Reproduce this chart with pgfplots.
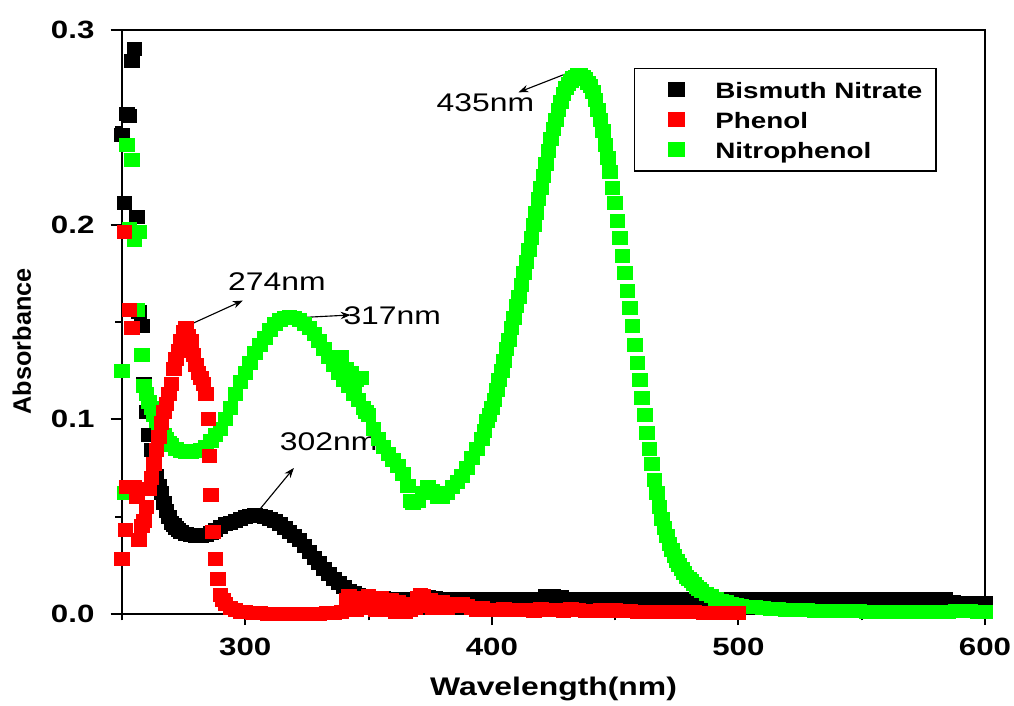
\documentclass[border=0pt]{standalone}
\usepackage{fontspec}
\setmainfont{Liberation Sans}[FakeStretch=1.25]
\newfontfamily\plainfont{Liberation Sans}
\usepackage{pgfplots}
\pgfplotsset{compat=1.18}
\usetikzlibrary{arrows.meta}

\newcommand\annfont{\fontsize{10.2}{12}\selectfont}

\begin{document}
\begin{tikzpicture}
\path[use as bounding box] (-48.8pt,-36.8pt) rectangle (356.8pt,245.6pt);
\begin{axis}[
  width=345.2pt, height=233.6pt, scale only axis,
  xmin=250, xmax=600, ymin=0, ymax=0.3,
  xtick={300,400,500,600}, minor xtick={250,350,450,550},
  ytick={0,0.1,0.2,0.3}, minor ytick={0.05,0.15,0.25},
  tick align=outside, xtick pos=bottom, ytick pos=left,
  major tick length=4.5pt, minor tick length=2.6pt,
  axis line style={line width=0.8pt},
  every tick/.style={black, line width=0.8pt},
  /pgf/number format/assume math mode=true,
  yticklabel style={/pgf/number format/fixed, /pgf/number format/fixed zerofill,
    /pgf/number format/precision=1, xshift=-3pt},
  tick label style={font=\fontsize{10}{12}\selectfont\bfseries},
  xticklabel style={yshift=-1.4pt},
  xlabel={Wavelength(nm)},
  ylabel={Absorbance},
  xlabel style={at={(axis description cs:0.5,0)}, anchor=center, yshift=-30pt,
    font=\fontsize{10.2}{12}\selectfont\bfseries},
  ylabel style={at={(axis description cs:-0.1159,0.467)}, anchor=center,
    font=\plainfont\fontsize{10.1}{12}\selectfont\bfseries},
  legend style={at={(rel axis cs:0.944,0.935)}, anchor=north east,
    draw=black, line width=0.6pt, inner xsep=3.4pt, inner ysep=3.5pt,
    row sep=2pt,
    font=\fontsize{8.9}{10}\selectfont\bfseries,
    nodes={text height=7.5pt, text depth=0.5pt, inner ysep=1pt}},
  legend cell align=left,
  legend image code/.code={%
    \path[draw=none, fill=none] (0pt,-3pt) rectangle (27pt,3pt);
    \draw[#1] plot coordinates {(13.5pt,0pt)};},
  mark size=2.6pt,
]
\addlegendimage{only marks, mark=square*, black, mark size=2.7pt, mark options={xscale=1.2}}
\addlegendentry{Bismuth Nitrate}
\addlegendimage{only marks, mark=square*, red, mark size=2.7pt, mark options={xscale=1.2}}
\addlegendentry{Phenol}
\addlegendimage{only marks, mark=square*, green, mark size=2.7pt, mark options={xscale=1.2}}
\addlegendentry{Nitrophenol}

% Bismuth Nitrate
\addplot[only marks, mark=square*, black, mark options={xscale=1.12}, forget plot] coordinates {
(250,0.246) (251,0.211) (252,0.257) (253,0.256) (254,0.284) (255,0.290)
(256,0.204) (257,0.155) (258,0.148) (259,0.118) (260,0.104) (261,0.092)
(262,0.084) (263,0.077) (264,0.071) (265,0.066) (266,0.062) (267,0.057)
(268,0.053) (269,0.050) (270,0.047) (271,0.0455) (272,0.044) (273,0.043)
(274,0.042) (276,0.041) (278,0.0405) (280,0.040) (282,0.040) (284,0.0405)
(286,0.0415) (288,0.043) (290,0.0445) (292,0.046) (294,0.047) (296,0.048)
(298,0.049) (300,0.050) (302,0.0505) (304,0.051) (306,0.0505) (308,0.050)
(310,0.049) (312,0.048) (314,0.046) (316,0.044) (318,0.042) (320,0.040)
(322,0.038) (324,0.035) (326,0.032) (328,0.029) (330,0.026) (332,0.023)
(334,0.0205) (336,0.018) (338,0.016) (340,0.014) (342,0.012) (344,0.011)
(346,0.010) (348,0.0093) (350,0.0088) (353,0.0083) (356,0.008) (359,0.0079)
(362,0.0078) (365,0.0078) (368,0.0078) (371,0.0085) (374,0.0086) (377,0.0084)
(380,0.0078) (383,0.0078) (386,0.0078) (389,0.0078) (392,0.0078) (395,0.0078)
(398,0.0078) (401,0.0078) (404,0.0078) (407,0.0078) (410,0.0078) (413,0.0078)
(416,0.0078) (419,0.0079) (422,0.009) (425,0.0092) (428,0.0088) (431,0.0079)
(434,0.0078) (437,0.0078) (440,0.0078) (443,0.0078) (446,0.0078) (449,0.0078)
(452,0.0078) (455,0.0078) (458,0.0078) (461,0.0078) (464,0.0078) (467,0.0078)
(470,0.0078) (473,0.0078) (476,0.0078) (479,0.0078) (482,0.0078) (485,0.0078)
(488,0.0078) (491,0.0078) (494,0.0078) (497,0.0078) (500,0.0078) (503,0.0078)
(506,0.0078) (509,0.0078) (512,0.0078) (515,0.0078) (518,0.0078) (521,0.0078)
(524,0.0078) (527,0.0078) (530,0.0078) (533,0.0078) (536,0.0078) (539,0.0078)
(542,0.0078) (545,0.0078) (548,0.0078) (551,0.0078) (554,0.0078) (557,0.0078)
(560,0.0078) (563,0.0078) (566,0.0078) (569,0.0078) (572,0.0078) (575,0.0078)
(578,0.0078) (581,0.0078) (584,0.0076) (587,0.0062) (590,0.0058) (593,0.0058)
(596,0.0058) (600,0.0058)
};

% Nitrophenol
\addplot[only marks, mark=square*, green, mark options={xscale=1.12}, forget plot] coordinates {
(250,0.125) (251,0.062) (252,0.241) (253,0.198) (254,0.233) (255,0.192)
(256,0.156) (257,0.196) (258,0.133) (259,0.117) (260,0.113) (261,0.109)
(262,0.106) (263,0.102) (264,0.099) (265,0.096) (266,0.094) (267,0.092)
(268,0.090) (269,0.088) (270,0.087) (272,0.085) (274,0.0835) (276,0.083)
(278,0.083) (280,0.0835) (282,0.084) (284,0.086) (286,0.089) (288,0.092)
(290,0.095) (292,0.100) (294,0.106) (296,0.113) (298,0.119) (300,0.124)
(302,0.129) (304,0.134) (306,0.138) (308,0.142) (310,0.146) (312,0.149)
(314,0.151) (316,0.152) (318,0.1525) (320,0.152) (322,0.151) (324,0.149)
(326,0.147) (328,0.144) (330,0.140) (332,0.136) (334,0.132) (336,0.128)
(338,0.124) (339,0.132) (340,0.120) (341,0.126) (342,0.117) (343,0.124)
(344,0.113) (345,0.120) (346,0.110) (347,0.121) (348,0.106) (349,0.104)
(350,0.102) (352,0.095) (354,0.090) (356,0.086) (358,0.082) (360,0.079)
(362,0.076) (364,0.072) (366,0.066) (367,0.058) (368,0.057) (370,0.058)
(372,0.062) (374,0.065) (376,0.063) (378,0.060) (380,0.060) (382,0.062)
(384,0.065) (386,0.068) (388,0.071) (390,0.075) (392,0.080) (394,0.085)
(396,0.090) (397,0.094) (398,0.099) (399,0.102) (400,0.106) (401,0.110)
(402,0.115) (403,0.120) (404,0.125) (405,0.130) (406,0.136) (407,0.141)
(408,0.147) (409,0.152) (410,0.158) (411,0.163) (412,0.169) (413,0.175)
(414,0.181) (415,0.187) (416,0.193) (417,0.200) (418,0.206) (419,0.213)
(420,0.219) (421,0.225) (422,0.231) (423,0.238) (424,0.244) (425,0.249)
(426,0.254) (427,0.259) (428,0.263) (429,0.267) (430,0.270) (431,0.272)
(432,0.274) (433,0.2755) (434,0.276) (435,0.277) (436,0.277) (437,0.276)
(438,0.275) (439,0.273) (440,0.271) (441,0.268) (442,0.264) (443,0.259)
(444,0.254) (445,0.248) (446,0.241) (447,0.234) (448,0.227) (449,0.219)
(450,0.211) (451,0.202) (452,0.193) (453,0.184) (454,0.175) (455,0.166)
(456,0.157) (457,0.148) (458,0.138) (459,0.129) (460,0.120) (461,0.111)
(462,0.102) (463,0.093) (464,0.085) (465,0.077) (466,0.069) (467,0.062)
(468,0.055) (469,0.049) (470,0.044) (471,0.040) (472,0.036) (473,0.033)
(474,0.030) (475,0.027) (476,0.025) (477,0.023) (478,0.021) (479,0.019)
(480,0.018) (481,0.017) (482,0.0155) (483,0.014) (484,0.013) (485,0.012)
(487,0.0105) (489,0.009) (491,0.0078) (493,0.0068) (495,0.006) (497,0.0052)
(499,0.0047) (501,0.0043) (504,0.0038) (507,0.0034) (510,0.003) (513,0.0027)
(516,0.0024) (519,0.0022) (522,0.002) (525,0.0019) (528,0.0018) (531,0.0017)
(534,0.0016) (537,0.0015) (540,0.0015) (543,0.0014) (546,0.0013) (549,0.0013)
(552,0.0012) (555,0.0012) (558,0.0012) (561,0.0011) (564,0.0011) (567,0.0011)
(570,0.0012) (573,0.0011) (576,0.0011) (579,0.0012) (582,0.0011) (585,0.0012)
(588,0.0013) (591,0.0014) (594,0.0013) (597,0.0012) (600,0.0012)
};

% Phenol
\addplot[only marks, mark=square*, red, mark options={xscale=1.12}, forget plot] coordinates {
(250,0.028) (251,0.196) (251.5,0.043) (252,0.065) (253,0.156) (254,0.147)
(255,0.065) (256,0.060) (257,0.038) (258,0.045) (259,0.048) (260,0.055)
(261,0.064) (262,0.070) (263,0.077) (264,0.084) (265,0.091) (266,0.098)
(267,0.104) (268,0.108) (269,0.113) (270,0.118) (271,0.126) (272,0.131)
(273,0.135) (274,0.140) (275,0.145) (276,0.147) (277,0.143) (278,0.140)
(279,0.133) (280,0.128) (281,0.124) (282,0.121) (283,0.118) (284,0.113)
(285,0.100) (285.5,0.081) (286,0.061) (287,0.042) (288,0.028) (289,0.018)
(290,0.010) (291,0.007) (292,0.005) (294,0.003) (296,0.002) (298,0.0012)
(300,0.0008) (303,0.0005) (306,0.0003) (309,0.0002) (312,0.0002) (315,0.0001)
(318,0.0001) (321,0.0001) (324,0.0001) (327,0.0002) (330,0.0002) (333,0.0003)
(336,0.0005) (339,0.0008) (341,0.007) (342,0.009) (343,0.004) (344,0.008)
(345,0.002) (346,0.006) (347,0.003) (348,0.008) (349,0.005) (350,0.009)
(351,0.003) (352,0.007) (353,0.002) (354,0.006) (355,0.008) (356,0.003)
(357,0.005) (358,0.002) (359,0.007) (360,0.004) (361,0.001) (362,0.006)
(363,0.005) (364,0.003) (365,0.001) (366,0.004) (367,0.002) (368,0.005)
(369,0.003) (370,0.008) (371,0.010) (372,0.009) (373,0.006) (374,0.004)
(375,0.007) (376,0.003) (377,0.005) (378,0.004) (380,0.006) (382,0.003)
(384,0.005) (386,0.004) (388,0.005) (390,0.004) (392,0.003) (394,0.002)
(396,0.003) (399,0.002) (402,0.0018) (405,0.0025) (408,0.002) (411,0.0018)
(414,0.002) (417,0.0015) (420,0.0025) (423,0.0018) (426,0.002) (429,0.0016)
(432,0.0025) (435,0.0018) (438,0.0016) (441,0.0015) (444,0.0022) (447,0.0015)
(450,0.002) (453,0.0014) (456,0.0015) (459,0.0012) (462,0.0012) (466,0.001)
(470,0.001) (474,0.0009) (478,0.0009) (482,0.0008) (486,0.0007) (490,0.0006)
(494,0.0005) (498,0.0004) (500,0.0003)
};

% annotations
\draw[-{Stealth[length=4pt,width=3pt]}, line width=0.45pt] (axis cs:274.7,0.147) -- (axis cs:299,0.161);
\node[font=\annfont] at (axis cs:312.8,0.1705) {274nm};
\draw[-{Stealth[length=4pt,width=3pt]}, line width=0.45pt] (axis cs:318.4,0.152) -- (axis cs:342.7,0.1536);
\node[font=\annfont] at (axis cs:359.6,0.153) {317nm};
\draw[-{Stealth[length=4pt,width=3pt]}, line width=0.45pt] (axis cs:305,0.0524) -- (axis cs:319.7,0.075);
\node[font=\annfont] at (axis cs:333.8,0.0884) {302nm};
\draw[-{Stealth[length=4pt,width=3pt]}, line width=0.45pt] (axis cs:433.9,0.2794) -- (axis cs:410.8,0.268);
\node[font=\annfont] at (axis cs:397.4,0.2625) {435nm};
\end{axis}
\end{tikzpicture}
\end{document}
